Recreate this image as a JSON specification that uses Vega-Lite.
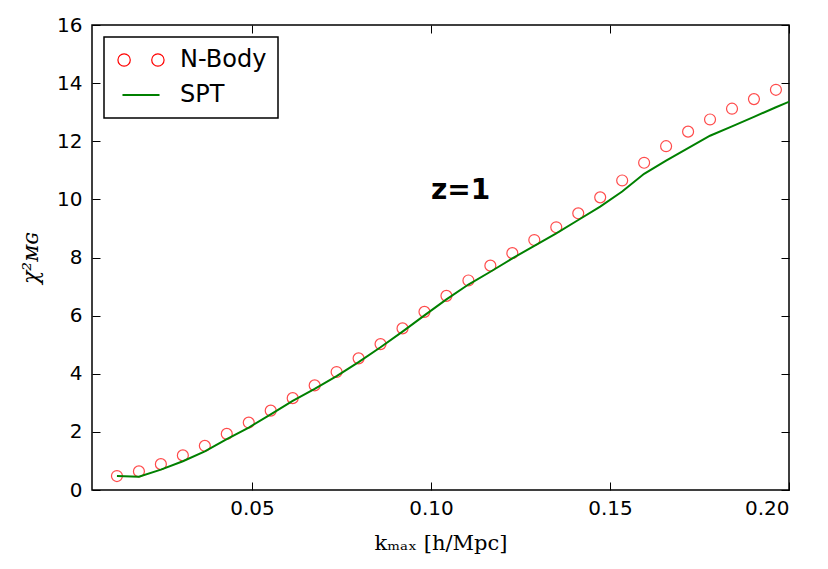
{
  "$schema": "https://vega.github.io/schema/vega-lite/v6.json",
  "width": 697,
  "height": 465,
  "autosize": {"type": "none"},
  "padding": {"left": 92, "top": 25, "right": 39, "bottom": 79},
  "background": "white",
  "config": {
    "view": {"stroke": "black", "strokeWidth": 1.5},
    "axis": {
      "domain": false,
      "grid": false,
      "labelFont": "DejaVu Sans",
      "labelFontSize": 20,
      "labelColor": "black",
      "tickColor": "black",
      "tickSize": -8,
      "tickWidth": 1
    }
  },
  "datasets": {
    "nbody": [
      {"k": 0.01227, "chi2": 0.48, "series": "N-Body"},
      {"k": 0.01841, "chi2": 0.64, "series": "N-Body"},
      {"k": 0.02454, "chi2": 0.89, "series": "N-Body"},
      {"k": 0.03068, "chi2": 1.19, "series": "N-Body"},
      {"k": 0.03682, "chi2": 1.52, "series": "N-Body"},
      {"k": 0.04295, "chi2": 1.93, "series": "N-Body"},
      {"k": 0.04909, "chi2": 2.32, "series": "N-Body"},
      {"k": 0.05522, "chi2": 2.73, "series": "N-Body"},
      {"k": 0.06136, "chi2": 3.16, "series": "N-Body"},
      {"k": 0.06750, "chi2": 3.60, "series": "N-Body"},
      {"k": 0.07363, "chi2": 4.06, "series": "N-Body"},
      {"k": 0.07977, "chi2": 4.53, "series": "N-Body"},
      {"k": 0.08590, "chi2": 5.02, "series": "N-Body"},
      {"k": 0.09204, "chi2": 5.56, "series": "N-Body"},
      {"k": 0.09817, "chi2": 6.13, "series": "N-Body"},
      {"k": 0.10431, "chi2": 6.68, "series": "N-Body"},
      {"k": 0.11045, "chi2": 7.21, "series": "N-Body"},
      {"k": 0.11658, "chi2": 7.72, "series": "N-Body"},
      {"k": 0.12272, "chi2": 8.15, "series": "N-Body"},
      {"k": 0.12885, "chi2": 8.60, "series": "N-Body"},
      {"k": 0.13499, "chi2": 9.04, "series": "N-Body"},
      {"k": 0.14113, "chi2": 9.52, "series": "N-Body"},
      {"k": 0.14726, "chi2": 10.07, "series": "N-Body"},
      {"k": 0.15340, "chi2": 10.65, "series": "N-Body"},
      {"k": 0.15953, "chi2": 11.26, "series": "N-Body"},
      {"k": 0.16567, "chi2": 11.83, "series": "N-Body"},
      {"k": 0.17181, "chi2": 12.33, "series": "N-Body"},
      {"k": 0.17794, "chi2": 12.75, "series": "N-Body"},
      {"k": 0.18408, "chi2": 13.12, "series": "N-Body"},
      {"k": 0.19021, "chi2": 13.45, "series": "N-Body"},
      {"k": 0.19635, "chi2": 13.77, "series": "N-Body"}
    ],
    "spt": [
      {"k": 0.01227, "chi2": 0.48, "series": "SPT"},
      {"k": 0.01841, "chi2": 0.46, "series": "SPT"},
      {"k": 0.02454, "chi2": 0.70, "series": "SPT"},
      {"k": 0.03068, "chi2": 0.99, "series": "SPT"},
      {"k": 0.03682, "chi2": 1.33, "series": "SPT"},
      {"k": 0.04295, "chi2": 1.75, "series": "SPT"},
      {"k": 0.04909, "chi2": 2.15, "series": "SPT"},
      {"k": 0.05522, "chi2": 2.60, "series": "SPT"},
      {"k": 0.06136, "chi2": 3.07, "series": "SPT"},
      {"k": 0.06750, "chi2": 3.48, "series": "SPT"},
      {"k": 0.07363, "chi2": 3.92, "series": "SPT"},
      {"k": 0.07977, "chi2": 4.40, "series": "SPT"},
      {"k": 0.08590, "chi2": 4.91, "series": "SPT"},
      {"k": 0.09204, "chi2": 5.45, "series": "SPT"},
      {"k": 0.09817, "chi2": 6.01, "series": "SPT"},
      {"k": 0.10431, "chi2": 6.56, "series": "SPT"},
      {"k": 0.11045, "chi2": 7.07, "series": "SPT"},
      {"k": 0.11658, "chi2": 7.51, "series": "SPT"},
      {"k": 0.12272, "chi2": 7.97, "series": "SPT"},
      {"k": 0.12885, "chi2": 8.40, "series": "SPT"},
      {"k": 0.13499, "chi2": 8.83, "series": "SPT"},
      {"k": 0.14113, "chi2": 9.29, "series": "SPT"},
      {"k": 0.14726, "chi2": 9.75, "series": "SPT"},
      {"k": 0.15340, "chi2": 10.27, "series": "SPT"},
      {"k": 0.15953, "chi2": 10.88, "series": "SPT"},
      {"k": 0.16567, "chi2": 11.33, "series": "SPT"},
      {"k": 0.17181, "chi2": 11.76, "series": "SPT"},
      {"k": 0.17794, "chi2": 12.19, "series": "SPT"},
      {"k": 0.18408, "chi2": 12.51, "series": "SPT"},
      {"k": 0.19021, "chi2": 12.84, "series": "SPT"},
      {"k": 0.19635, "chi2": 13.17, "series": "SPT"},
      {"k": 0.20249, "chi2": 13.49, "series": "SPT"}
    ],
    "note": [
      {"k": 0.1, "chi2": 10, "text": "z=1"}
    ]
  },
  "layer": [
    {
      "data": {"name": "nbody"},
      "mark": {"type": "point", "shape": "circle", "filled": false, "size": 120, "strokeWidth": 1.2},
      "encoding": {
        "x": {
          "field": "k", "type": "quantitative",
          "scale": {"domain": [0.0053, 0.2], "nice": false, "zero": false},
          "axis": {
            "orient": "bottom",
            "values": [0.05, 0.1, 0.15, 0.2],
            "format": ".2f",
            "labelPadding": 16,
            "title": "kₘₐₓ [h/Mpc]",
            "titleFont": "DejaVu Serif",
            "titleFontSize": 21,
            "titleFontWeight": "normal",
            "titleColor": "black",
            "titlePadding": 14
          }
        },
        "y": {
          "field": "chi2", "type": "quantitative",
          "scale": {"domain": [0, 16], "nice": false},
          "axis": {
            "orient": "left",
            "values": [0, 2, 4, 6, 8, 10, 12, 14, 16],
            "labelPadding": 18,
            "title": "χ²ᴍɢ",
            "titleFont": "DejaVu Serif",
            "titleFontSize": 22,
            "titleFontStyle": "italic",
            "titleFontWeight": "normal",
            "titleColor": "black",
            "titlePadding": 14
          }
        },
        "color": {
          "field": "series", "type": "nominal",
          "scale": {"domain": ["N-Body", "SPT"], "range": ["#ff0000", "#008000"]},
          "legend": {
            "title": null,
            "orient": "top-left",
            "offset": 12,
            "padding": 11,
            "strokeColor": "black",
            "fillColor": "white",
            "cornerRadius": 0,
            "labelFont": "DejaVu Sans",
            "labelFontSize": 24,
            "labelColor": "black",
            "labelOffset": 27,
            "rowPadding": 11,
            "symbolSize": 169,
            "symbolOffset": 14,
            "encode": {
              "legend": {"update": {"strokeWidth": {"value": 1.5}}},
              "symbols": {
                "update": {
                  "shape": {"signal": "datum.value === 'SPT' ? 'M -2.85,0 L 2.85,0' : 'M -3.55,0 A 0.95,0.95 0 1,0 -1.65,0 A 0.95,0.95 0 1,0 -3.55,0 M 1.65,0 A 0.95,0.95 0 1,0 3.55,0 A 0.95,0.95 0 1,0 1.65,0'"},
                  "strokeWidth": {"signal": "datum.value === 'SPT' ? 2 : 1.2"},
                  "fill": {"value": "transparent"}
                }
              }
            }
          }
        }
      }
    },
    {
      "data": {"name": "spt"},
      "mark": {"type": "line", "strokeWidth": 2, "clip": true},
      "encoding": {
        "x": {
          "field": "k", "type": "quantitative",
          "axis": {"orient": "top", "values": [0.05, 0.1, 0.15, 0.2], "labels": false, "title": null}
        },
        "y": {
          "field": "chi2", "type": "quantitative",
          "axis": {"orient": "right", "values": [0, 2, 4, 6, 8, 10, 12, 14, 16], "labels": false, "title": null}
        },
        "color": {
          "field": "series", "type": "nominal",
          "legend": {
            "title": null,
            "orient": "top-left",
            "offset": 12,
            "padding": 11,
            "strokeColor": "black",
            "fillColor": "white",
            "cornerRadius": 0,
            "labelFont": "DejaVu Sans",
            "labelFontSize": 24,
            "labelColor": "black",
            "labelOffset": 27,
            "rowPadding": 11,
            "symbolSize": 169,
            "symbolOffset": 14,
            "encode": {
              "legend": {"update": {"strokeWidth": {"value": 1.5}}},
              "symbols": {
                "update": {
                  "shape": {"signal": "datum.value === 'SPT' ? 'M -2.85,0 L 2.85,0' : 'M -3.55,0 A 0.95,0.95 0 1,0 -1.65,0 A 0.95,0.95 0 1,0 -3.55,0 M 1.65,0 A 0.95,0.95 0 1,0 3.55,0 A 0.95,0.95 0 1,0 1.65,0'"},
                  "strokeWidth": {"signal": "datum.value === 'SPT' ? 2 : 1.2"},
                  "fill": {"value": "transparent"}
                }
              }
            }
          }
        }
      }
    },
    {
      "data": {"name": "note"},
      "mark": {"type": "text", "align": "left", "baseline": "alphabetic", "font": "DejaVu Sans", "fontSize": 28, "fontWeight": "bold", "color": "black"},
      "encoding": {
        "x": {"field": "k", "type": "quantitative", "axis": null},
        "y": {"field": "chi2", "type": "quantitative", "axis": null},
        "text": {"field": "text"}
      }
    }
  ],
  "resolve": {"axis": {"x": "independent", "y": "independent"}}
}
